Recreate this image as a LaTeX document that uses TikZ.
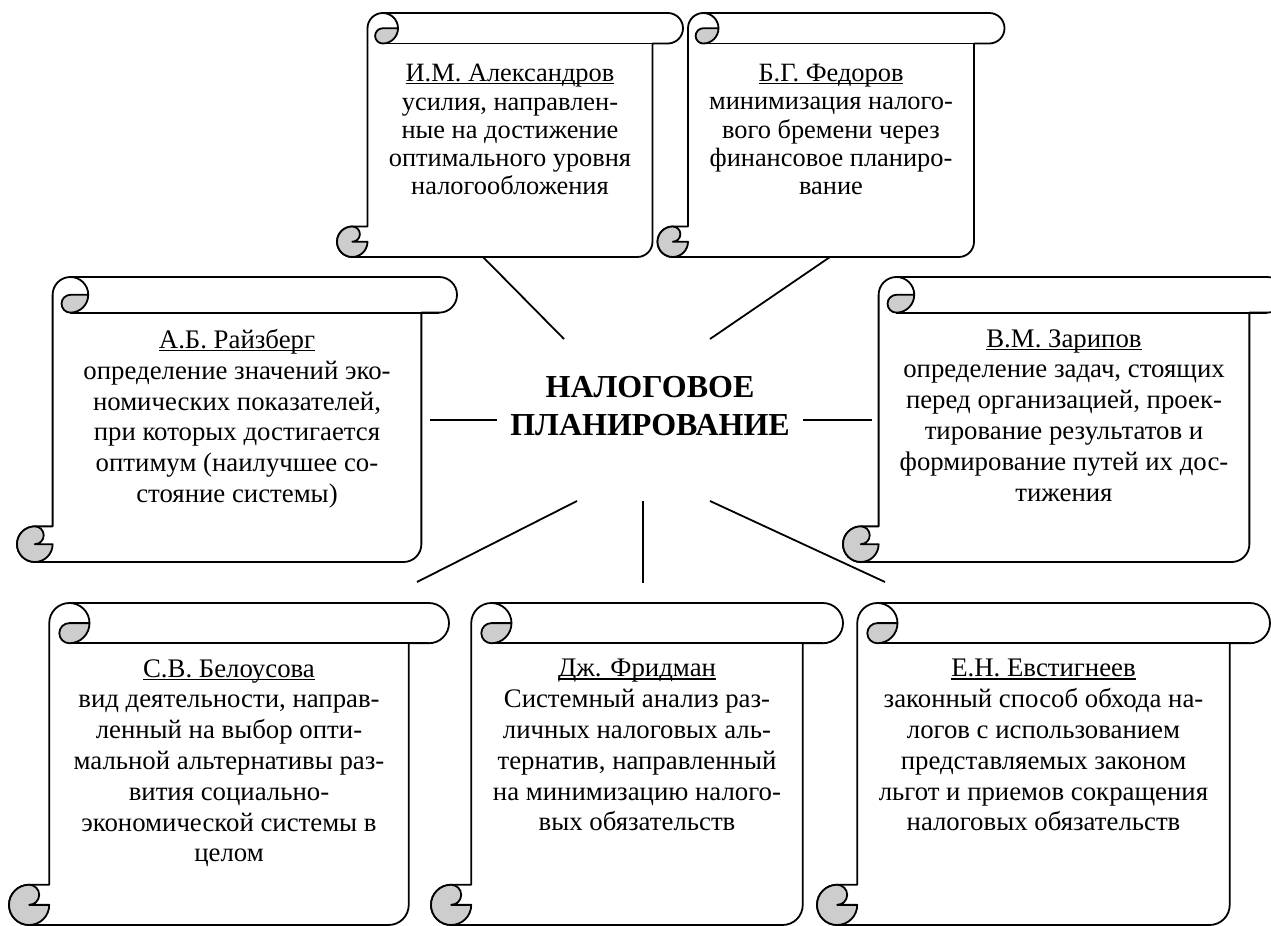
\documentclass[tikz,border=0pt]{standalone}
\usepackage{fontspec}
\setmainfont{Liberation Serif}
\definecolor{curlgray}{RGB}{205,205,205}

\tikzset{
  outline/.style={draw=black, line width=0.9pt, line join=round},
  bodyfill/.style={outline, fill=white},
  curlfill/.style={outline, fill=curlgray},
  boxtext/.style={align=center, inner sep=0pt, anchor=north,
    font=\fontsize{13.4}{15.4}\selectfont},
  toptext/.style={font=\fontsize{13.2}{14.1}\selectfont},
  hub/.style={align=center, inner sep=0pt,
    font=\fontsize{16}{19}\selectfont\bfseries},
  link/.style={draw=black, line width=0.9pt}
}

% underlined author name with the rule close to the baseline
\newcommand\uname[1]{\setbox0\hbox{#1}\leavevmode\rlap{\rule[-1.3pt]{\wd0}{0.6pt}}\box0}

% horizontal scroll: #1,#2 = top-left corner, #3 = width, #4 = height
\newcommand\scrollshape[4]{%
  \pgfmathsetmacro\scrX{#1}\pgfmathsetmacro\scrY{#2}%
  \pgfmathsetmacro\scrW{#3}\pgfmathsetmacro\scrHt{#4}%
  \pgfmathsetmacro\scrC{0.125*min(#3,#4)}%
  \pgfmathsetmacro\scrH{\scrC/2}\pgfmathsetmacro\scrQ{\scrC/4}%
  % sheet with the top roll and the bottom roll
  \path[bodyfill]
    (\scrX+\scrH,\scrY+\scrHt) arc[start angle=90,end angle=270,radius=\scrH]
    -- (\scrX+\scrC,\scrY+\scrHt-\scrC)
    -- (\scrX+\scrC,\scrY+\scrH) arc[start angle=180,end angle=270,radius=\scrH]
    -- (\scrX+\scrW-\scrH,\scrY) arc[start angle=-90,end angle=90,radius=\scrH]
    -- (\scrX+\scrW-\scrC,\scrY+\scrC)
    -- (\scrX+\scrW-\scrC,\scrY+\scrHt-\scrH) arc[start angle=0,end angle=90,radius=\scrH]
    -- cycle;
  % lower edge of the top roll
  \draw[outline] (\scrX+\scrC+\scrH,\scrY+\scrC) -- (\scrX+\scrW-\scrH,\scrY+\scrC);
  \draw[outline] (\scrX+\scrC+\scrH,\scrY) arc[start angle=270,end angle=360,radius=\scrH];
  % top curl
  \path[curlfill] (\scrX+\scrC+\scrH,\scrY+\scrH) -- (\scrX+2*\scrC,\scrY+\scrH)
    arc[start angle=0,end angle=90,radius=\scrH]
    arc[start angle=90,end angle=270,radius=\scrQ] -- cycle;
  % bottom curl
  \path[curlfill] (\scrX+\scrH,\scrY+\scrHt-\scrC)
    arc[start angle=270,end angle=0,radius=\scrH]
    -- (\scrX+\scrH,\scrY+\scrHt-\scrH)
    arc[start angle=90,end angle=-90,radius=\scrQ] -- cycle;
}

\begin{document}
\begin{tikzpicture}[x=0.5pt,y=-0.5pt]
\useasboundingbox (0,0) rectangle (1271,926);
\clip (0,0) rectangle (1271,926);

% scroll sheets
\scrollshape{337}{13}{346}{244}
\scrollshape{657.5}{13}{347}{244}
\scrollshape{17}{277}{440}{285}
\scrollshape{843}{277}{442}{285}
\scrollshape{9}{603}{440}{322}
\scrollshape{431}{603}{412}{322}
\scrollshape{817}{603}{453}{322}

% texts
\node[boxtext, toptext] (alex) at (510,64)
  {\uname{И.М. Александров}\\усилия, направлен-\\ные на достижение\\оптимального уровня\\налогообложения};
\node[boxtext, toptext] (fedorov) at (831,64)
  {\uname{Б.Г. Федоров}\\минимизация налого-\\вого бремени через\\финансовое планиро-\\вание};
\node[boxtext] (raizberg) at (237,329)
  {\uname{А.Б. Райзберг}\\определение значений эко-\\номических показателей,\\при которых достигается\\оптимум (наилучшее со-\\стояние системы)};
\node[boxtext] (zaripov) at (1064,329)
  {\uname{В.М. Зарипов}\\определение задач, стоящих\\перед организацией, проек-\\тирование результатов и\\формирование путей их дос-\\тижения};
\node[boxtext] (belousova) at (229,659)
  {\uname{С.В. Белоусова}\\вид деятельности, направ-\\ленный на выбор опти-\\мальной альтернативы раз-\\вития социально-\\экономической системы в\\целом};
\node[boxtext] (fridman) at (637,659)
  {\uname{Дж. Фридман}\\Системный анализ раз-\\личных налоговых аль-\\тернатив, направленный\\на минимизацию налого-\\вых обязательств};
\node[boxtext] (evstigneev) at (1043.5,659)
  {\uname{Е.Н. Евстигнеев}\\законный способ обхода на-\\логов с использованием\\представляемых законом\\льгот и приемов сокращения\\налоговых обязательств};

\node[hub] (hub) at (650,406) {НАЛОГОВОЕ\\ПЛАНИРОВАНИЕ};

% spokes
\coordinate (alexEnd) at (483,257);   \coordinate (alexHub) at (564,339);
\coordinate (fedEnd) at (830,257);    \coordinate (fedHub) at (710,339);
\coordinate (raizEnd) at (430,420);   \coordinate (raizHub) at (497,420);
\coordinate (zarEnd) at (872,420);    \coordinate (zarHub) at (803,420);
\coordinate (belEnd) at (417,582);    \coordinate (belHub) at (577,501);
\coordinate (fridEnd) at (643,583);   \coordinate (fridHub) at (643,501);
\coordinate (evsEnd) at (885,582);    \coordinate (evsHub) at (710,501);

\draw[link] (alexEnd) -- (alexHub);
\draw[link] (fedEnd) -- (fedHub);
\draw[link] (raizEnd) -- (raizHub);
\draw[link] (zarHub) -- (zarEnd);
\draw[link] (belHub) -- (belEnd);
\draw[link] (fridHub) -- (fridEnd);
\draw[link] (evsHub) -- (evsEnd);
\end{tikzpicture}
\end{document}
